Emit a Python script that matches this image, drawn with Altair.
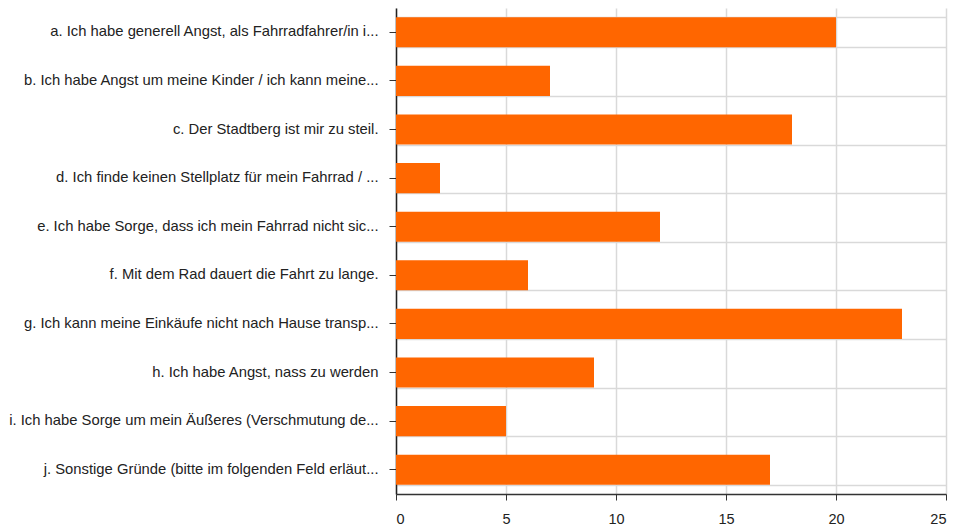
import altair as alt
import pandas as pd

categories = [
    "a. Ich habe generell Angst, als Fahrradfahrer/in i...",
    "b. Ich habe Angst um meine Kinder / ich kann meine...",
    "c. Der Stadtberg ist mir zu steil.",
    "d. Ich finde keinen Stellplatz für mein Fahrrad / ...",
    "e. Ich habe Sorge, dass ich mein Fahrrad nicht sic...",
    "f. Mit dem Rad dauert die Fahrt zu lange.",
    "g. Ich kann meine Einkäufe nicht nach Hause transp...",
    "h. Ich habe Angst, nass zu werden",
    "i. Ich habe Sorge um mein Äußeres (Verschmutung de...",
    "j. Sonstige Gründe (bitte im folgenden Feld erläut...",
]
values = [20, 7, 18, 2, 12, 6, 23, 9, 5, 17]
x_ticks = [0, 5, 10, 15, 20, 25]

df = pd.DataFrame({"cat": categories, "val": values})

FONT = "Liberation Sans"

yscale = alt.Scale(domain=categories, paddingInner=0.38, paddingOuter=0.19)
xscale = alt.Scale(domain=[0, 25], nice=False)

bars = alt.Chart(df).mark_bar(color="#FF6600").encode(
    x=alt.X("val:Q", scale=xscale, title=None,
            axis=alt.Axis(values=x_ticks, grid=True, gridColor="#d9d9d9", gridWidth=1.5,
                          domainColor="#333333", tickColor="#333333", tickSize=6,
                          labelColor="#222222", labelFontSize=14.5, labelFont=FONT,
                          labelPadding=12, domainWidth=1.5)),
    y=alt.Y("cat:N", sort=categories, scale=yscale, title=None,
            axis=alt.Axis(grid=False, domainColor="#222222", domainWidth=1.5,
                          tickColor="#333333", tickSize=7, labelColor="#222222",
                          labelFontSize=14.8, labelFont=FONT, labelLimit=500,
                          labelPadding=11)),
)

grid_layer = alt.Chart(df).mark_bar(opacity=0).encode(
    x=alt.X("val:Q", scale=xscale, title=None),
    y=alt.Y("cat:N", sort=categories, scale=yscale, title=None,
            axis=alt.Axis(orient="right", grid=True, tickBand="extent",
                          gridColor="#d9d9d9", gridWidth=1.5, labels=False,
                          ticks=False, domain=False)),
)

chart = alt.layer(grid_layer, bars).resolve_axis(y="independent").properties(
    width=550, height=486,
    padding={"left": 0, "top": 0, "right": 5, "bottom": 0},
).configure_view(stroke=None)

chart.save("out.html", embed_options={"renderer": "svg", "actions": False})
